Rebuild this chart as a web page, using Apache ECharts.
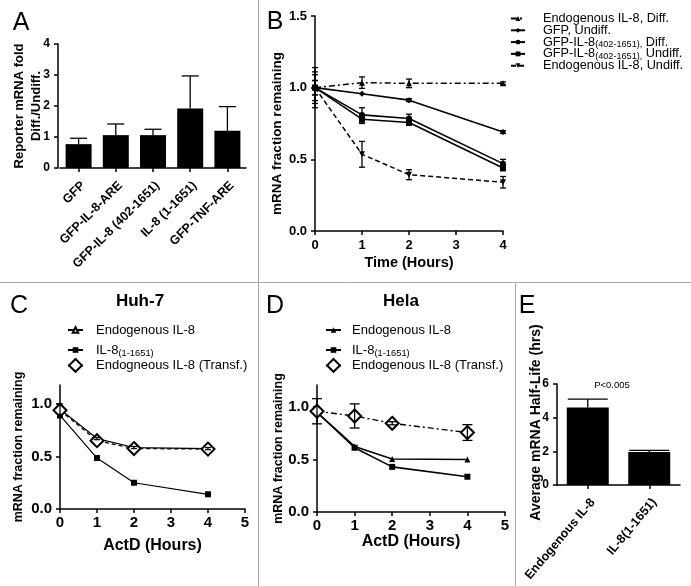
<!DOCTYPE html>
<html><head><meta charset="utf-8">
<script src="https://cdn.jsdelivr.net/npm/echarts@6/dist/echarts.min.js"></script>
<style>html,body{margin:0;padding:0;background:#fff}#c{width:691px;height:586px}</style>
</head><body><div id="c"></div>
<script>
const FONT = '"Liberation Sans", Arial, Helvetica, sans-serif';

// ---------- Panel A ----------
const catsA = ['GFP', 'GFP-IL-8-ARE', 'GFP-IL-8 (402-1651)', 'IL-8 (1-1651)', 'GFP-TNF-ARE'];
const valsA = [0.77, 1.06, 1.06, 1.92, 1.20];
const errA = [0.19, 0.36, 0.19, 1.05, 0.78];
const yTicksA = [0, 1, 2, 3, 4];

// ---------- Panel B ----------
const timeB = [0, 1, 2, 4];
const xTicksB = [0, 1, 2, 3, 4];
const yTicksB = [0, 0.5, 1.0, 1.5];
const namesB = ['Endogenous IL-8, Diff.', 'GFP, Undiff.', 'GFP-IL-8(402-1651), Diff.', 'GFP-IL-8(402-1651), Undiff.', 'Endogenous IL-8, Undiff.'];
const endoDiffB = [1.00, 1.035, 1.03, 1.03];
const endoDiffErrB = [0.11, 0.04, 0.03, 0.01];
const gfpUndiffB = [1.00, 0.957, 0.913, 0.69];
const gfpUndiffErrB = [0.05, 0, 0.01, 0.01];
const gfpIl8DiffB = [1.00, 0.81, 0.785, 0.47];
const gfpIl8DiffErrB = [0.09, 0.05, 0.03, 0.03];
const gfpIl8UndiffB = [1.00, 0.78, 0.757, 0.44];
const gfpIl8UndiffErrB = [0.05, 0.03, 0.02, 0.02];
const endoUndiffB = [1.00, 0.535, 0.393, 0.34];
const endoUndiffErrB = [0.14, 0.09, 0.035, 0.04];

// ---------- Panel C (Huh-7) ----------
const timeC = [0, 1, 2, 4];
const xTicksCD = [0, 1, 2, 3, 4, 5];
const yTicksCD = [0, 0.5, 1.0];
const labelsC = ['Endogenous IL-8', 'IL-8(1-1651)', 'Endogneous IL-8 (Transf.)'];
const endoC = [0.95, 0.67, 0.585, 0.575];
const endoErrC = [0.05, 0.01, 0.01, 0.01];
const il8C = [0.89, 0.485, 0.25, 0.14];
const endoTransfC = [0.94, 0.65, 0.575, 0.57];

// ---------- Panel D (Hela) ----------
const timeD = [0, 1, 2, 4];
const labelsD = ['Endogenous IL-8', 'IL-8(1-1651)', 'Endogenous IL-8 (Transf.)'];
const endoD = [0.95, 0.625, 0.505, 0.50];
const il8D = [0.95, 0.612, 0.43, 0.336];
const endoTransfD = [0.96, 0.915, 0.845, 0.757];
const endoTransfErrD = [0.12, 0.115, 0.015, 0.075];

// ---------- Panel E ----------
const catsE = ['Endogenous IL-8', 'IL-8(1-1651)'];
const valsE = [4.6, 1.96];
const errE = [0.5, 0.1];
const yTicksE = [0, 2, 4, 6];

// ---------- helpers ----------
const BLACK = '#000';
function axisBase(fontSize) {
  return {
    axisLine: { show: true, onZero: false, lineStyle: { color: BLACK, width: 1.5 } },
    axisTick: { show: true, length: 4, lineStyle: { color: BLACK, width: 1.5 } },
    splitLine: { show: false },
    axisLabel: { color: BLACK, fontWeight: 'bold', fontFamily: FONT, fontSize: fontSize },
    nameTextStyle: { color: BLACK, fontWeight: 'bold', fontFamily: FONT },
    nameMoveOverlap: false
  };
}
function merge(a, b) {
  const o = Object.assign({}, a);
  for (const k in b) {
    if (b[k] && typeof b[k] === 'object' && !Array.isArray(b[k]) && o[k] && typeof o[k] === 'object') o[k] = merge(o[k], b[k]);
    else o[k] = b[k];
  }
  return o;
}
function lineSeries(name, xs, ys, axisIdx, symbol, size, dash, width) {
  return {
    type: 'line', name: name, xAxisIndex: axisIdx, yAxisIndex: axisIdx,
    data: xs.map((x, i) => [x, ys[i]]),
    symbol: symbol, symbolSize: size,
    lineStyle: { color: BLACK, width: width, type: dash },
    itemStyle: { color: BLACK },
    z: 3, animation: false, silent: true
  };
}
function errSeries(xs, ys, errs, axisIdx, cap, upperOnly) {
  const data = [];
  xs.forEach((x, i) => { if (errs[i] > 0) data.push([x, upperOnly ? ys[i] : ys[i] - errs[i], ys[i] + errs[i]]); });
  return {
    type: 'custom', xAxisIndex: axisIdx, yAxisIndex: axisIdx, data: data,
    encode: { x: 0, y: [1, 2] }, z: 5, animation: false, silent: true,
    renderItem: function (params, api) {
      const x = api.value(0);
      const lo = api.coord([x, api.value(1)]);
      const hi = api.coord([x, api.value(2)]);
      const st = { stroke: BLACK, lineWidth: 1.3 };
      const ch = [
        { type: 'line', shape: { x1: lo[0], y1: lo[1], x2: hi[0], y2: hi[1] }, style: st },
        { type: 'line', shape: { x1: hi[0] - cap / 2, y1: hi[1], x2: hi[0] + cap / 2, y2: hi[1] }, style: st }
      ];
      if (!upperOnly) ch.push({ type: 'line', shape: { x1: lo[0] - cap / 2, y1: lo[1], x2: lo[0] + cap / 2, y2: lo[1] }, style: st });
      return { type: 'group', children: ch };
    }
  };
}
function subFmt(name) {
  let s = name.replace(/^[A-Z]:/, '');
  s = s.replace('(402-1651),', '{s|(402-1651),}').replace(/\(1-1651\)$/, '{s|(1-1651)}');
  return s;
}
function legendItem(name, left, top, iw, ih, fontSize, gap) {
  return {
    show: true, orient: 'vertical', left: left, top: top, padding: 0, itemGap: 0,
    itemWidth: iw, itemHeight: ih, data: [name], selectedMode: false,
    formatter: subFmt,
    textStyle: {
      color: BLACK, fontFamily: FONT, fontSize: fontSize, padding: [0, 0, 0, gap],
      rich: { s: { fontSize: fontSize * 0.72, fontFamily: FONT, color: BLACK, padding: [fontSize * 0.45, 0, 0, 0] } }
    }
  };
}

// ---------- grids ----------
const grids = [
  { left: 60, top: 44, width: 186, height: 124 },   // A
  { left: 315, top: 16, width: 188, height: 215 },  // B
  { left: 60, top: 385, width: 185, height: 124 },  // C
  { left: 317, top: 385, width: 188, height: 127 }, // D
  { left: 557, top: 384, width: 123, height: 101 }  // E
].map(g => Object.assign({ containLabel: false, outerBoundsMode: 'none' }, g));

const xAxes = [
  merge(axisBase(12.5), { gridIndex: 0, type: 'category', data: catsA,
    axisTick: { alignWithLabel: true },
    axisLabel: { rotate: 45, interval: 0, margin: 11, align: 'right', verticalAlign: 'top' } }),
  merge(axisBase(13), { gridIndex: 1, type: 'value', min: 0, max: 4,
    axisTick: { customValues: xTicksB }, axisLabel: { customValues: xTicksB, margin: 8 },
    name: 'Time (Hours)', nameLocation: 'middle', nameGap: 24, nameTextStyle: { fontSize: 14.5 } }),
  merge(axisBase(15), { gridIndex: 2, type: 'value', min: 0, max: 5,
    axisTick: { customValues: xTicksCD }, axisLabel: { customValues: xTicksCD, margin: 6 },
    name: 'ActD (Hours)', nameLocation: 'middle', nameGap: 29, nameTextStyle: { fontSize: 16 } }),
  merge(axisBase(15), { gridIndex: 3, type: 'value', min: 0, max: 5,
    axisTick: { customValues: xTicksCD }, axisLabel: { customValues: xTicksCD, margin: 6 },
    name: 'ActD (Hours)', nameLocation: 'middle', nameGap: 22, nameTextStyle: { fontSize: 16 } }),
  merge(axisBase(12.5), { gridIndex: 4, type: 'category', data: catsE,
    axisTick: { alignWithLabel: true },
    axisLabel: { rotate: 50, interval: 0, margin: 11, align: 'right', verticalAlign: 'top' } })
];

const yAxes = [
  merge(axisBase(12), { gridIndex: 0, type: 'value', min: 0, max: 4, offset: 2,
    axisTick: { customValues: yTicksA }, axisLabel: { customValues: yTicksA },
    name: 'Reporter mRNA fold\nDiff./Undiff.', nameLocation: 'middle', nameRotate: 90, nameGap: 13,
    nameTextStyle: { fontSize: 13, lineHeight: 17 } }),
  merge(axisBase(13), { gridIndex: 1, type: 'value', min: 0, max: 1.5,
    axisTick: { customValues: yTicksB }, axisLabel: { customValues: yTicksB, formatter: v => v.toFixed(1) },
    name: 'mRNA fraction remaining', nameLocation: 'middle', nameRotate: 90, nameGap: 31,
    nameTextStyle: { fontSize: 13.5, padding: [0, 20, 0, 0] } }),
  merge(axisBase(15), { gridIndex: 2, type: 'value', min: 0, max: 1.18,
    axisTick: { customValues: yTicksCD }, axisLabel: { customValues: yTicksCD, formatter: v => v.toFixed(1) },
    name: 'mRNA fraction remaining', nameLocation: 'middle', nameRotate: 90, nameGap: 35,
    nameTextStyle: { fontSize: 12.5 } }),
  merge(axisBase(15), { gridIndex: 3, type: 'value', min: 0, max: 1.21,
    axisTick: { customValues: yTicksCD }, axisLabel: { customValues: yTicksCD, formatter: v => v.toFixed(1) },
    name: 'mRNA fraction remaining', nameLocation: 'middle', nameRotate: 90, nameGap: 32,
    nameTextStyle: { fontSize: 12.5 } }),
  merge(axisBase(12), { gridIndex: 4, type: 'value', min: 0, max: 6,
    axisTick: { customValues: yTicksE }, axisLabel: { customValues: yTicksE },
    name: 'Average mRNA Half-Life (hrs)', nameLocation: 'middle', nameRotate: 90, nameGap: 14,
    nameTextStyle: { fontSize: 14, padding: [0, 0, 0, 24] } })
];

const downTri = 'path://M0,0 L10,0 L5,9 Z';
const dashDot = [6, 3, 2, 3];

const series = [
  // A
  { type: 'bar', xAxisIndex: 0, yAxisIndex: 0, data: valsA, barWidth: 26, itemStyle: { color: BLACK }, animation: false, silent: true },
  errSeries(catsA.map((c, i) => i), valsA, errA, 0, 17, true),
  // B
  lineSeries(namesB[0], timeB, endoDiffB, 1, 'triangle', 6, dashDot, 1.5),
  lineSeries(namesB[1], timeB, gfpUndiffB, 1, 'diamond', 6, 'solid', 1.6),
  lineSeries(namesB[2], timeB, gfpIl8DiffB, 1, 'circle', 6, 'solid', 1.6),
  lineSeries(namesB[3], timeB, gfpIl8UndiffB, 1, 'rect', 6, 'solid', 1.6),
  lineSeries(namesB[4], timeB, endoUndiffB, 1, downTri, 6, [5, 3], 1.5),
  errSeries(timeB, endoDiffB, endoDiffErrB, 1, 6),
  errSeries(timeB, gfpUndiffB, gfpUndiffErrB, 1, 6),
  errSeries(timeB, gfpIl8DiffB, gfpIl8DiffErrB, 1, 6),
  errSeries(timeB, gfpIl8UndiffB, gfpIl8UndiffErrB, 1, 6),
  errSeries(timeB, endoUndiffB, endoUndiffErrB, 1, 6),
  // C
  lineSeries('C:' + labelsC[0], timeC, endoC, 2, 'emptyTriangle', 6, 'solid', 1.2),
  lineSeries('C:' + labelsC[1], timeC, il8C, 2, 'rect', 6, 'solid', 1.2),
  lineSeries('C:' + labelsC[2], timeC, endoTransfC, 2, 'emptyDiamond', 13, [4, 3], 1.2),
  errSeries(timeC, endoC, endoErrC, 2, 6),
  // D
  lineSeries('D:' + labelsD[0], timeD, endoD, 3, 'triangle', 6, 'solid', 1.6),
  lineSeries('D:' + labelsD[1], timeD, il8D, 3, 'rect', 6, 'solid', 1.6),
  lineSeries('D:' + labelsD[2], timeD, endoTransfD, 3, 'emptyDiamond', 13, dashDot, 1.4),
  errSeries(timeD, endoTransfD, endoTransfErrD, 3, 10),
  // E
  { type: 'bar', xAxisIndex: 4, yAxisIndex: 4, data: valsE, barWidth: 42, itemStyle: { color: BLACK }, animation: false, silent: true },
  errSeries(catsE.map((c, i) => i), valsE, errE, 4, 40, true)
];

const legends = [];
namesB.forEach((n, i) => legends.push(legendItem(n, 510, 12 + i * 11.8, 14, 6, 12.7, 13)));
const rowsCD = [327, 347, 366];
labelsC.forEach((n, i) => {
  const ih = i === 2 ? 16 : 7;
  legends.push(legendItem('C:' + n, 67, rowsCD[i] - ih / 2, 15, ih, 13, 8));
});
labelsD.forEach((n, i) => {
  const ih = i === 2 ? 16 : 7;
  legends.push(legendItem('D:' + n, 325, rowsCD[i] - ih / 2, 15, ih, 13, 6));
});

function txt(x, y, text, size, weight) {
  return { type: 'text', x: x, y: y, silent: true,
    style: { text: text, fontSize: size, fontWeight: weight || 'normal', fontFamily: FONT, fill: BLACK, align: 'center', verticalAlign: 'middle' } };
}
const divColor = '#a8a8a8';
const graphic = [
  { type: 'line', silent: true, shape: { x1: 0, y1: 282.5, x2: 691, y2: 282.5 }, style: { stroke: divColor, lineWidth: 1 } },
  { type: 'line', silent: true, shape: { x1: 258.5, y1: 0, x2: 258.5, y2: 586 }, style: { stroke: divColor, lineWidth: 1 } },
  { type: 'line', silent: true, shape: { x1: 515.5, y1: 282.5, x2: 515.5, y2: 586 }, style: { stroke: divColor, lineWidth: 1 } },
  txt(21, 23, 'A', 25), txt(275, 22, 'B', 25), txt(19, 306, 'C', 25), txt(275, 306, 'D', 25), txt(527, 306, 'E', 25),
  txt(140, 301, 'Huh-7', 17, 'bold'), txt(401, 301, 'Hela', 17, 'bold'),
  txt(612, 385, 'P<0.005', 9.5)
];

const chart = echarts.init(document.getElementById('c'), null, { renderer: 'canvas' });
chart.setOption({
  backgroundColor: '#fff', animation: false,
  textStyle: { fontFamily: FONT },
  grid: grids, xAxis: xAxes, yAxis: yAxes, series: series, legend: legends, graphic: graphic
});
</script>
</body></html>
